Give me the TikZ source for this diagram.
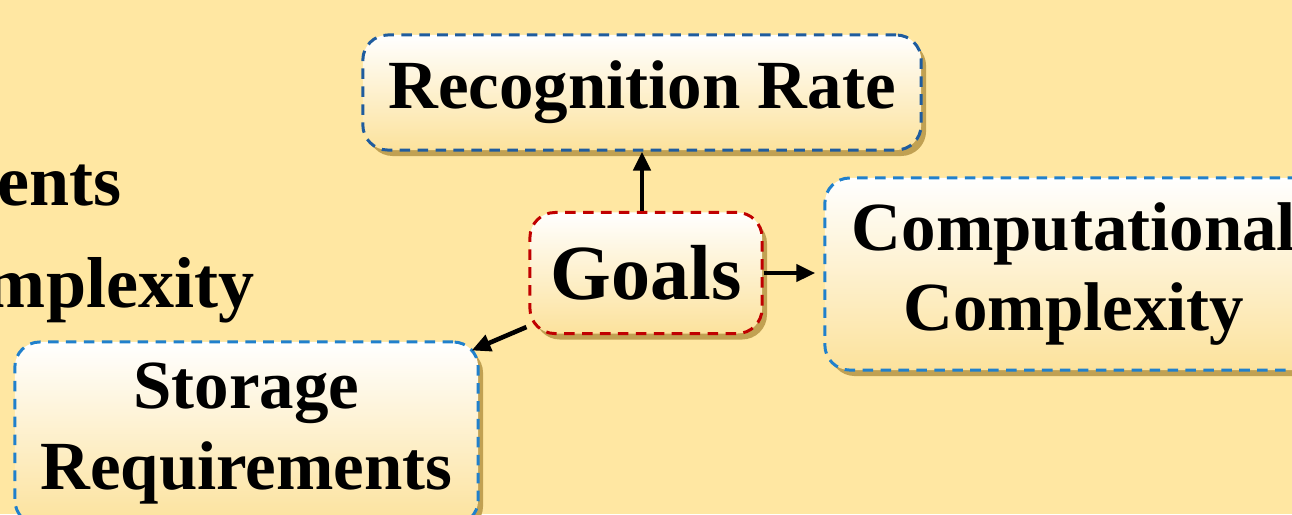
\documentclass[tikz,border=0pt]{standalone}
\usepackage{fontspec}
\setmainfont{Liberation Serif}
\definecolor{slidebg}{HTML}{FFE7A2}
\definecolor{boxbottom}{HTML}{FCE29C}
\definecolor{shadowol}{HTML}{C1A152}
\definecolor{darkblau}{HTML}{1F5C9E}
\definecolor{lightblau}{HTML}{2080CC}
\definecolor{goalred}{HTML}{C00000}
\usetikzlibrary{arrows.meta, shapes, positioning, calc, shadows}

\tikzset{
  goalbox/.style={rounded corners=0.25cm, draw=lightblau, line width=0.85pt,
    dash pattern=on 3pt off 2.1pt, top color=white, bottom color=boxbottom,
    drop shadow={shadow xshift=1.4pt, shadow yshift=-1.7pt, fill=shadowol, opacity=1},
    align=center, inner sep=0pt, font=\bfseries\fontsize{19.6}{22.8}\selectfont},
  itemtext/.style={anchor=base east, inner sep=0pt,
    font=\bfseries\fontsize{20.5}{24}\selectfont},
  arr/.style={-{Triangle[length=5.4pt,width=4.8pt]}, line width=1.3pt}
}

\begin{document}
\begin{tikzpicture}[x=0.01cm, y=-0.01cm]
  \useasboundingbox (0,0) rectangle (1292,514);
  \clip (0,0) rectangle (1292,514);
  \fill[slidebg] (0,0) rectangle (1292,514);
  % list running in from the left
  \node[itemtext] (itemstore) at (122,205) {Requirements};
  \node[itemtext] (itemcomp) at (255,307) {Complexity};
  % goal boxes
  \node[goalbox, draw=goalred, minimum width=2.32cm, minimum height=1.21cm,
        font=\bfseries\fontsize{22.2}{26}\selectfont] (goals) at (646,273) {Goals};
  \node[goalbox, draw=darkblau, minimum width=5.58cm, minimum height=1.15cm]
        (recog) at (642,92.5) {Recognition Rate};
  \node[goalbox, minimum width=4.98cm, minimum height=1.92cm]
        (comp) at (1074,274) {Computational\\Complexity};
  \node[goalbox, minimum width=4.63cm, minimum height=1.83cm]
        (storage) at (246.5,433.5) {Storage\\Requirements};
  % arrows out of the centre
  \draw[arr] (recog.south |- goals.north) -- (recog.south);
  \draw[arr, shorten >=2.3pt] (goals.east) -- (comp.west |- goals.east);
  \draw[arr] ([shift={(-2,-8)}]goals.south west) -- ([shift={(-8,10)}]storage.north east);
\end{tikzpicture}
\end{document}
